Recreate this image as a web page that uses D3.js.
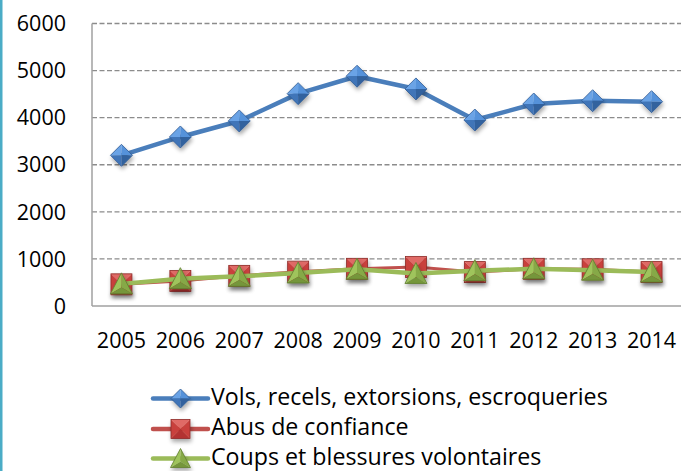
<!DOCTYPE html>
<html><head><meta charset="utf-8">
<script src="https://cdn.jsdelivr.net/npm/d3@7"></script>
<style>html,body{margin:0;padding:0;background:#fff;}svg{display:block;}</style>
</head><body>
<svg id="c" width="681" height="471"></svg>
<script>
const years = ["2005","2006","2007","2008","2009","2010","2011","2012","2013","2014"];
const vols = [3200, 3590, 3930, 4510, 4880, 4610, 3950, 4290, 4360, 4340];
const abus = [460, 530, 640, 730, 790, 830, 720, 790, 780, 720];
const coups = [470, 580, 630, 700, 780, 690, 750, 790, 760, 720];
const yTicks = [0, 1000, 2000, 3000, 4000, 5000, 6000];
const seriesNames = ["Vols, recels, extorsions, escroqueries", "Abus de confiance", "Coups et blessures volontaires"];

(function(){
const svg = d3.select("#c");
const FONT = "'Open Sans', Lato, sans-serif";
const W = 681, H = 471;
const pL = 92, pR = 681, pT = 23.5, pB = 306;

const x = d3.scalePoint().domain(years).range([pL, pR]).padding(0.5);
const y = d3.scaleLinear().domain([0, 6000]).range([pB, pT]);

const defs = svg.append("defs");
const f = defs.append("filter").attr("id","sh").attr("x","-50%").attr("y","-50%").attr("width","200%").attr("height","200%");
f.append("feGaussianBlur").attr("in","SourceAlpha").attr("stdDeviation",2).attr("result","b");
f.append("feOffset").attr("in","b").attr("dx",1).attr("dy",3).attr("result","o");
f.append("feComponentTransfer").attr("in","o").attr("result","o2").append("feFuncA").attr("type","linear").attr("slope",0.35);
const m = f.append("feMerge"); m.append("feMergeNode").attr("in","o2"); m.append("feMergeNode").attr("in","SourceGraphic");

svg.append("rect").attr("x",0).attr("y",0).attr("width",2.5).attr("height",H).attr("fill","#4bacc6");

svg.append("g").selectAll("line").data(yTicks.filter(d=>d>0)).join("line")
  .attr("x1", pL).attr("x2", pR).attr("y1", d=>y(d)).attr("y2", d=>y(d))
  .attr("stroke","#8c8c8c").attr("stroke-width",1.3).attr("stroke-dasharray","5,2.5");

svg.append("line").attr("x1",pL).attr("x2",pL).attr("y1",pT).attr("y2",pB).attr("stroke","#a0a0a0").attr("stroke-width",1.5);
svg.append("line").attr("x1",pL).attr("x2",pR).attr("y1",pB).attr("y2",pB).attr("stroke","#a0a0a0").attr("stroke-width",1.5);

svg.append("g").selectAll("text").data(yTicks).join("text")
  .attr("x", 66).attr("y", d=>y(d)).attr("dy","0.36em").attr("text-anchor","end")
  .attr("font-family",FONT).attr("font-size",21.5).attr("fill","#000").text(d=>d);

svg.append("g").selectAll("text").data(years).join("text")
  .attr("x", d=>x(d)).attr("y", 348).attr("text-anchor","middle")
  .attr("font-family",FONT).attr("font-size",21.5).attr("fill","#000").text(d=>d);

function diamond(g, r){
  const c = [["#6aa3e6",[[0,-r],[-r,0],[0,0]]],["#5592da",[[0,-r],[r,0],[0,0]]],
             ["#3f74b8",[[-r,0],[0,r],[0,0]]],["#33629e",[[r,0],[0,r],[0,0]]]];
  c.forEach(([col,pts])=>g.append("path").attr("d","M"+pts.join("L")+"Z").attr("fill",col));
  g.append("path").attr("d",`M0,${-r}L${r},0L0,${r}L${-r},0Z`).attr("fill","none").attr("stroke","#2f5a94").attr("stroke-width",0.8);
}
function square(g, r){
  const c = [["#e06a66",[[-r,-r],[r,-r],[0,0]]],["#c9403c",[[-r,-r],[-r,r],[0,0]]],
             ["#c9403c",[[r,-r],[r,r],[0,0]]],["#b33330",[[-r,r],[r,r],[0,0]]]];
  c.forEach(([col,pts])=>g.append("path").attr("d","M"+pts.join("L")+"Z").attr("fill",col));
  g.append("rect").attr("x",-r).attr("y",-r).attr("width",2*r).attr("height",2*r).attr("fill","none").attr("stroke","#8e2b28").attr("stroke-width",0.8);
}
function triangle(g, r){
  const t=[0,-r*1.05], bl=[-r*1.05,r*0.95], br=[r*1.05,r*0.95], c=[0,r*0.35];
  g.append("path").attr("d","M"+[t,bl,c].join("L")+"Z").attr("fill","#9fc45c");
  g.append("path").attr("d","M"+[t,br,c].join("L")+"Z").attr("fill","#86a946");
  g.append("path").attr("d","M"+[bl,br,c].join("L")+"Z").attr("fill","#74963a");
  g.append("path").attr("d","M"+[t,bl,br].join("L")+"Z").attr("fill","none").attr("stroke","#5f7d2e").attr("stroke-width",0.8);
}

const series = [
  {name: seriesNames[0], vals: vols, color:"#4a7ebb", w:4.5, mk: diamond, r:11},
  {name: seriesNames[1], vals: abus, color:"#c0504d", w:3, mk: square, r:10.5},
  {name: seriesNames[2], vals: coups, color:"#9bbb59", w:4.5, mk: triangle, r:10.5}
];

const line = d3.line().x((d,i)=>x(years[i])).y(d=>y(d));

[series[1], series[2], series[0]].forEach(s=>{
  svg.append("path").datum(s.vals).attr("d", line).attr("fill","none")
    .attr("stroke", s.color).attr("stroke-width", s.w).attr("stroke-linejoin","round");
  const g = svg.append("g").attr("filter","url(#sh)");
  s.vals.forEach((v,i)=>{
    const mg = g.append("g").attr("transform",`translate(${x(years[i])},${y(v)})`);
    s.mk(mg, s.r);
  });
});

const legY = [398.5, 429, 458.5];
series.forEach((s,i)=>{
  const ly = legY[i];
  svg.append("line").attr("x1",153).attr("x2",208).attr("y1",ly).attr("y2",ly)
    .attr("stroke",s.color).attr("stroke-width",4.5).attr("stroke-linecap","round");
  const mg = svg.append("g").attr("transform",`translate(180.5,${ly})`).attr("filter","url(#sh)");
  s.mk(mg, 9.5);
  svg.append("text").attr("x",211).attr("y",ly + 6)
    .attr("font-family",FONT).attr("font-size",23.2).attr("fill","#000").text(s.name);
});
})();
</script>
</body></html>
